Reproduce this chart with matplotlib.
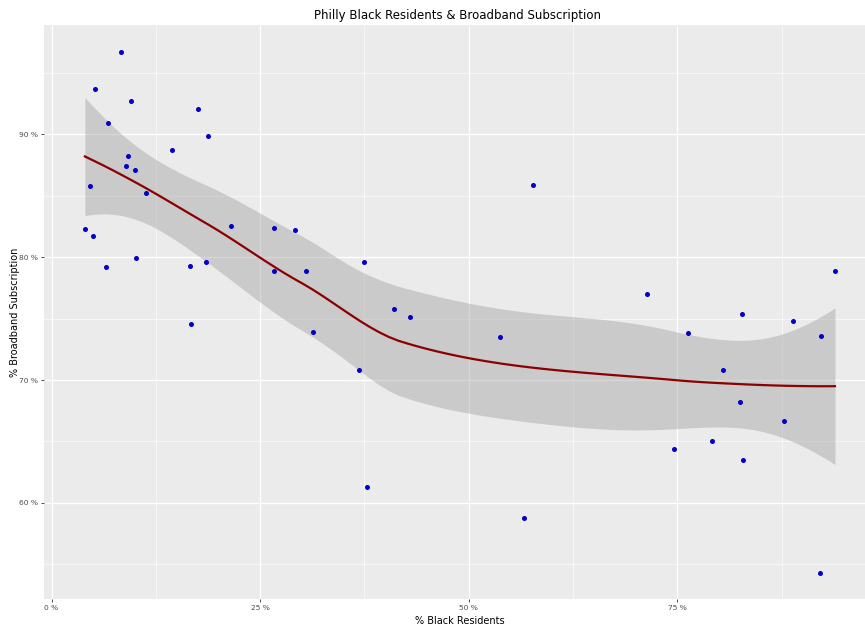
import numpy as np
import matplotlib
matplotlib.use("Agg")
import matplotlib.pyplot as plt
from matplotlib.ticker import FixedLocator

# % Black residents vs % broadband subscription
black_pct = [4.0, 4.6, 5.2, 5.0, 6.5, 6.8, 8.3, 8.9, 9.2, 9.5, 10.0, 10.1, 11.3,
             14.4, 16.6, 16.7, 17.5, 18.5, 18.7, 21.5,
             26.7, 26.7, 29.2, 30.5, 31.3, 36.8, 37.5, 37.8, 41.0, 43.0,
             53.8, 56.6, 57.7,
             71.4, 74.6, 76.3, 79.2, 80.5, 82.5, 82.7, 82.9, 87.8, 88.9,
             92.1, 92.2, 93.9]
broadband_pct = [82.3, 85.8, 93.7, 81.7, 79.2, 90.9, 96.7, 87.4, 88.2, 92.7, 87.1, 79.9, 85.2,
                 88.7, 79.3, 74.6, 92.1, 79.6, 89.9, 82.5,
                 82.4, 78.9, 82.2, 78.9, 73.9, 70.8, 79.6, 61.3, 75.8, 75.1,
                 73.5, 58.8, 85.9,
                 77.0, 64.4, 73.8, 65.0, 70.8, 68.2, 75.4, 63.5, 66.7, 74.8,
                 54.3, 73.6, 78.9]

x_ticks = [0, 25, 50, 75]
x_labels = ["0 %", "25 %", "50 %", "75 %"]
y_ticks = [60, 70, 80, 90]
y_labels = ["60 %", "70 %", "80 %", "90 %"]

x = np.array(black_pct)
y = np.array(broadband_pct)
n = len(x)
span = 0.75


# local quadratic fit: operator rows for value and slope at x0
def local_rows(x0):
    q = int(np.floor(n * span))
    d = np.abs(x - x0)
    h = np.sort(d)[q - 1]
    w = np.clip(1 - (d / h) ** 3, 0, None) ** 3
    X = np.column_stack([np.ones(n), x - x0, (x - x0) ** 2])
    XtW = X.T * w
    B = np.linalg.solve(XtW @ X, XtW)
    return B[0], B[1]


# kd-tree vertices like R's loess (surface = "interpolate")
fc = int(np.floor(n * span * 0.2))
margin = 0.005 * (x.max() - x.min())
verts = {x.min() - margin, x.max() + margin}


def split(pts):
    if len(pts) <= fc:
        return
    s = np.sort(pts)
    m = len(s) // 2
    v = (s[m - 1] + s[m]) / 2 if len(s) % 2 == 0 else s[m]
    verts.add(v)
    split(pts[pts <= v])
    split(pts[pts > v])


split(x)
vx = np.array(sorted(verts))
VL, VD = zip(*[local_rows(v) for v in vx])
VL, VD = np.array(VL), np.array(VD)


def interp_rows(xq):
    out = []
    for x0 in xq:
        i = min(max(np.searchsorted(vx, x0) - 1, 0), len(vx) - 2)
        dx = vx[i + 1] - vx[i]
        t = (x0 - vx[i]) / dx
        h00 = 2 * t ** 3 - 3 * t ** 2 + 1
        h10 = t ** 3 - 2 * t ** 2 + t
        h01 = -2 * t ** 3 + 3 * t ** 2
        h11 = t ** 3 - t ** 2
        out.append(h00 * VL[i] + h10 * dx * VD[i] + h01 * VL[i + 1] + h11 * dx * VD[i + 1])
    return np.array(out)


L = interp_rows(x)
res = y - L @ y
M = (np.eye(n) - L).T @ (np.eye(n) - L)
d1 = np.trace(M)
d2 = np.trace(M @ M)
sigma = np.sqrt(np.sum(res ** 2) / d1)
df = d1 ** 2 / d2
z = 1.959964
tq = z + (z ** 3 + z) / (4 * df) + (5 * z ** 5 + 16 * z ** 3 + 3 * z) / (96 * df ** 2)

xs = np.linspace(x.min(), x.max(), 80)
Ls = interp_rows(xs)
fit = Ls @ y
se = sigma * np.sqrt(np.sum(Ls ** 2, axis=1))

fig = plt.figure(figsize=(8.65, 6.28), dpi=100)
ax = fig.add_axes([44 / 865, 29 / 628, 821 / 865, 574 / 628])
ax.set_facecolor("#EBEBEB")
for s in ax.spines.values():
    s.set_visible(False)

ax.fill_between(xs, fit - tq * se, fit + tq * se, color="#999999", alpha=0.4, lw=0, zorder=2)
ax.plot(xs, fit, color="#8B0000", lw=1.6, zorder=3)
ax.scatter(x, y, s=13, color="#0000C8", lw=0, zorder=4)

ax.set_xlim(-0.9, 97.5)
ax.set_ylim(52.18, 98.9)
ax.set_xticks(x_ticks)
ax.set_xticklabels(x_labels)
ax.set_yticks(y_ticks)
ax.set_yticklabels(y_labels)
ax.xaxis.set_minor_locator(FixedLocator([12.5, 37.5, 62.5, 87.5]))
ax.yaxis.set_minor_locator(FixedLocator([55, 65, 75, 85, 95]))
ax.grid(which="major", color="white", lw=0.95, zorder=1)
ax.grid(which="minor", color="white", lw=0.5, alpha=0.8, zorder=1)
ax.set_axisbelow(True)
ax.tick_params(which="major", length=2.5, width=0.6, color="#333333",
               labelsize=5.4, labelcolor="#4D4D4D", pad=2)
ax.tick_params(which="minor", length=0)

ax.set_xlabel("% Black Residents", fontsize=7)
ax.xaxis.set_label_coords((460 - 44) / 821, -(621 - 599) / 574)
ax.xaxis.label.set_va("center")
ax.set_ylabel("% Broadband Subscription", fontsize=7)
ax.yaxis.set_label_coords(-(44 - 15) / 821, 0.5)
ax.yaxis.label.set_va("center")
fig.text(458 / 865, 1 - 15 / 628, "Philly Black Residents & Broadband Subscription",
         ha="center", va="center", fontsize=8.5)

fig.savefig("out.png", dpi=100)
